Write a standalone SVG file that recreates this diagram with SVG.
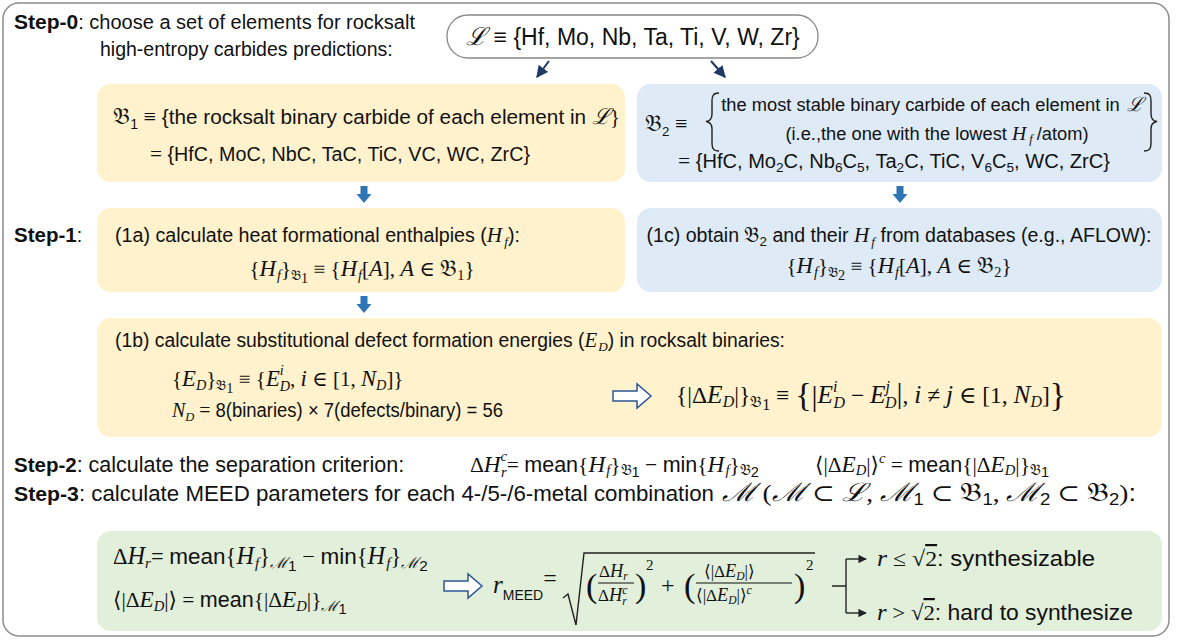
<svg xmlns="http://www.w3.org/2000/svg" width="1178" height="641" viewBox="0 0 1178 641">
<style>
.t{font-family:"Liberation Sans",Arial,sans-serif;font-size:19.5px;fill:#111}
.L{font-size:21.5px}
.b{font-weight:bold;font-size:20.5px}
.m{font-family:"Liberation Serif","DejaVu Serif",serif;font-style:italic;font-size:1.08em}
.u{font-family:"Liberation Serif","DejaVu Serif",serif;font-style:normal}
.fr{font-family:"DejaVu Serif","DejaVu Sans",serif;font-style:normal;font-size:1.1em}
.s{font-size:0.68em}
.yel{fill:#FFF2CC}
.blu{fill:#DEEBF7}
.grn{fill:#E2EFDA}
.ba{fill:#2E75B6}
.ho{fill:#fff;stroke:#2F5597;stroke-width:1.5}
.cn{fill:none;stroke:#1F3864;stroke-width:2}
.br{fill:none;stroke:#222;stroke-width:1.4}
</style>
<defs>
<marker id="ah" viewBox="0 0 10 10" refX="9" refY="5" markerWidth="6" markerHeight="6" orient="auto"><path d="M0,0 L10,5 L0,10 z" fill="#1F3864"/></marker>
<marker id="ak" viewBox="0 0 10 10" refX="9" refY="5" markerWidth="6" markerHeight="6" orient="auto"><path d="M0,0 L10,5 L0,10 z" fill="#222"/></marker>
<path id="blk" d="M-3.5,0 H3.5 V8 H7.5 L0,17 L-7.5,8 H-3.5 Z"/>
<path id="hol" d="M0,-5 H24 V-12 L38,0 L24,12 V5 H0 Z"/>
</defs>
<rect x="3" y="3" width="1166" height="633" rx="16" fill="#fff" stroke="#8c8c8c" stroke-width="1.5"/>

<g id="step0">
<text class="t" x="14" y="29" textLength="401" lengthAdjust="spacingAndGlyphs"><tspan class="b">Step-0</tspan>:  choose a set of elements for rocksalt</text>
<text class="t" x="100" y="56">high-entropy carbides predictions:</text>
</g>
<g id="setL">
<rect x="447" y="15" width="371" height="43" rx="21" fill="#fff" stroke="#888" stroke-width="1.3"/>
<text class="t" x="633" y="45" text-anchor="middle" style="font-size:23px"><tspan class="m">ℒ</tspan> ≡ {Hf, Mo, Nb, Ta, Ti, V, W, Zr}</text>
</g>
<g id="B1">
<rect class="yel" x="97" y="84" width="528" height="98" rx="14"/>
<text class="t" x="113" y="124" style="font-size:20.5px" textLength="507" lengthAdjust="spacingAndGlyphs"><tspan class="fr" style="font-size:23px">𝔅</tspan><tspan dy="5" class="s">1</tspan><tspan dy="-5" class="u" style="font-size:22px"> ≡ </tspan>{the rocksalt binary carbide of each element in <tspan class="m">ℒ</tspan><tspan class="u">}</tspan></text>
<text class="t" x="150" y="161" textLength="380" lengthAdjust="spacingAndGlyphs"><tspan class="u" style="font-size:21px">=</tspan> {HfC, MoC, NbC, TaC, TiC, VC, WC, ZrC}</text>
</g>
<g id="B2">
<rect class="blu" x="637" y="84" width="525" height="98" rx="14"/>
<text class="t" x="645" y="131"><tspan class="fr" style="font-size:23px">𝔅</tspan><tspan dy="5" class="s">2</tspan><tspan dy="-5" class="u" style="font-size:22px"> ≡</tspan></text>
<path class="br" d="M719,93 C713,93 712,96 712,101 L712,114 C712,119 710,121 706,121.5 C710,122 712,124 712,129 L712,143 C712,148 713,151 719,151"/>
<path class="br" d="M1144,93 C1150,93 1151,96 1151,101 L1151,114 C1151,119 1153,121 1157,121.5 C1153,122 1151,124 1151,129 L1151,143 C1151,148 1150,151 1144,151"/>
<text class="t" x="932" y="111" text-anchor="middle" style="font-size:18.3px">the most stable binary carbide of each element in <tspan class="m" dx="2">ℒ</tspan></text>
<text class="t" x="937" y="140" text-anchor="middle" style="font-size:18.3px">(i.e.,the one with the lowest <tspan class="m">H</tspan><tspan class="m s" dx="3" dy="3">f</tspan><tspan dy="-3" dx="4">/atom)</tspan></text>
<text class="t" x="678" y="168" textLength="432" lengthAdjust="spacingAndGlyphs"><tspan class="u" style="font-size:21px">=</tspan> {HfC, Mo<tspan class="s" dy="4">2</tspan><tspan dy="-4">C, Nb</tspan><tspan class="s" dy="4">6</tspan><tspan dy="-4">C</tspan><tspan class="s" dy="4">5</tspan><tspan dy="-4">, Ta</tspan><tspan class="s" dy="4">2</tspan><tspan dy="-4">C, TiC, V</tspan><tspan class="s" dy="4">6</tspan><tspan dy="-4">C</tspan><tspan class="s" dy="4">5</tspan><tspan dy="-4">, WC, ZrC}</tspan></text>
</g>

<g id="step1">
<text class="t" x="14" y="242"><tspan class="b">Step-1</tspan>:</text>
</g>
<g id="n1a">
<rect class="yel" x="97" y="208" width="528" height="84" rx="14"/>
<text class="t" x="115" y="242" textLength="405" lengthAdjust="spacingAndGlyphs">(1a) calculate heat formational enthalpies (<tspan class="m">H</tspan><tspan class="m s" dx="2" dy="4">f</tspan><tspan dy="-4">):</tspan></text>
<text class="t u" x="362" y="276" text-anchor="middle" style="font-size:21px">{<tspan class="m">H</tspan><tspan class="m s" dx="1" dy="4">f</tspan><tspan dy="-4">}</tspan><tspan class="fr s" dy="4">𝔅</tspan><tspan class="s" dy="3">1</tspan><tspan dy="-7"> ≡ {</tspan><tspan class="m">H</tspan><tspan class="m s" dx="1" dy="4">f</tspan><tspan dy="-4">[</tspan><tspan class="m">A</tspan>], <tspan class="m">A</tspan> ∈ <tspan class="fr">𝔅</tspan><tspan class="s" dy="4">1</tspan><tspan dy="-4">}</tspan></text>
</g>
<g id="n1c">
<rect class="blu" x="637" y="208" width="525" height="84" rx="14"/>
<text class="t" x="899" y="242" text-anchor="middle" textLength="505" lengthAdjust="spacingAndGlyphs">(1c) obtain <tspan class="fr">𝔅</tspan><tspan class="s" dy="4">2</tspan><tspan dy="-4"> and their </tspan><tspan class="m">H</tspan><tspan class="m s" dx="2" dy="4">f</tspan><tspan dy="-4"> from databases (e.g., AFLOW):</tspan></text>
<text class="t u" x="899" y="273" text-anchor="middle" style="font-size:21px">{<tspan class="m">H</tspan><tspan class="m s" dx="1" dy="4">f</tspan><tspan dy="-4">}</tspan><tspan class="fr s" dy="4">𝔅</tspan><tspan class="s" dy="3">2</tspan><tspan dy="-7"> ≡ {</tspan><tspan class="m">H</tspan><tspan class="m s" dx="1" dy="4">f</tspan><tspan dy="-4">[</tspan><tspan class="m">A</tspan>], <tspan class="m">A</tspan> ∈ <tspan class="fr">𝔅</tspan><tspan class="s" dy="4">2</tspan><tspan dy="-4">}</tspan></text>
</g>
<g id="n1b">
<rect class="yel" x="97" y="318" width="1065" height="119" rx="14"/>
<text class="t" x="115" y="347" textLength="670" lengthAdjust="spacingAndGlyphs">(1b) calculate substitutional defect formation energies (<tspan class="m">E</tspan><tspan class="m s" dx="1" dy="4">D</tspan><tspan dy="-4">) in rocksalt binaries:</tspan></text>
<text class="t u" x="172" y="386" style="font-size:21px">{<tspan class="m">E</tspan><tspan class="m s" dy="4">D</tspan><tspan dy="-4">}</tspan><tspan class="fr s" dy="4">𝔅</tspan><tspan class="s" dy="3">1</tspan><tspan dy="-7"> ≡ {</tspan><tspan class="m">E</tspan><tspan class="m s" dy="-11">i</tspan><tspan class="m s" dx="-4" dy="16">D</tspan><tspan dy="-5">, </tspan><tspan class="m">i</tspan> ∈ [1, <tspan class="m">N</tspan><tspan class="m s" dy="4">D</tspan><tspan dy="-4">]}</tspan></text>
<text class="t" x="172" y="417" textLength="331" lengthAdjust="spacingAndGlyphs"><tspan class="m" style="font-size:21px">N</tspan><tspan class="m s" dy="4">D</tspan><tspan dy="-4" class="u" style="font-size:21px"> = </tspan>8(binaries) × 7(defects/binary) = 56</text>
<use href="#hol" x="613" y="396" class="ho"/>
<text class="t u" x="676" y="403" style="font-size:23.5px">{|Δ<tspan class="m">E</tspan><tspan class="m s" dy="4">D</tspan><tspan dy="-4">|}</tspan><tspan class="fr s" dy="4">𝔅</tspan><tspan class="s" dy="3">1</tspan><tspan dy="-7"> ≡ </tspan><tspan style="font-size:34px" dy="3">{</tspan><tspan style="font-size:30px">|</tspan><tspan dy="-3" class="m">E</tspan><tspan class="m s" dy="-11">i</tspan><tspan class="m s" dx="-4" dy="16">D</tspan><tspan dy="-5"> − </tspan><tspan class="m">E</tspan><tspan class="m s" dy="-11">j</tspan><tspan class="m s" dx="-5" dy="16">D</tspan><tspan dy="-5" style="font-size:30px">|</tspan><tspan>, </tspan><tspan class="m">i</tspan> ≠ <tspan class="m">j</tspan> ∈ [1, <tspan class="m">N</tspan><tspan class="m s" dy="4">D</tspan><tspan dy="-4">]</tspan><tspan style="font-size:34px" dy="3">}</tspan></text>
</g>

<g id="step2">
<text class="t L" x="14" y="472"><tspan class="b">Step-2</tspan>: calculate the separation criterion:</text>
<text class="t L" x="470" y="472"><tspan class="u">Δ</tspan><tspan class="m">H</tspan><tspan class="m s" dy="-11">c</tspan><tspan class="m s" dx="-6" dy="16">r</tspan><tspan dy="-5" class="u">= </tspan>mean<tspan class="u">{</tspan><tspan class="m">H</tspan><tspan class="m s" dx="1" dy="3">f</tspan><tspan dy="-3" class="u">}</tspan><tspan class="fr s" dy="3">𝔅</tspan><tspan class="s" dy="2">1</tspan><tspan dy="-5" class="u"> − </tspan>min<tspan class="u">{</tspan><tspan class="m">H</tspan><tspan class="m s" dx="1" dy="3">f</tspan><tspan dy="-3" class="u">}</tspan><tspan class="fr s" dy="3">𝔅</tspan><tspan class="s" dy="2">2</tspan></text>
<text class="t L" x="815" y="472"><tspan class="u">⟨|Δ</tspan><tspan class="m">E</tspan><tspan class="m s" dy="3">D</tspan><tspan dy="-3" class="u">|⟩</tspan><tspan class="m s" dy="-9">c</tspan><tspan dy="9" class="u"> = </tspan>mean<tspan class="u">{|Δ</tspan><tspan class="m">E</tspan><tspan class="m s" dy="3">D</tspan><tspan dy="-3" class="u">|}</tspan><tspan class="fr s" dy="3">𝔅</tspan><tspan class="s" dy="2">1</tspan></text>
</g>
<g id="step3">
<text class="t L" x="14" y="501" textLength="700" lengthAdjust="spacingAndGlyphs"><tspan class="b">Step-3</tspan>: calculate MEED parameters for each 4-/5-/6-metal combination</text>
<text class="t" x="722" y="501" style="font-size:23.5px" textLength="414" lengthAdjust="spacingAndGlyphs"><tspan class="m">ℳ</tspan><tspan class="u"> (</tspan><tspan class="m">ℳ</tspan><tspan class="u"> ⊂ </tspan><tspan class="m">ℒ</tspan><tspan class="u">, </tspan><tspan class="m">ℳ</tspan><tspan class="s" dy="4">1</tspan><tspan dy="-4" class="u"> ⊂ </tspan><tspan class="fr">𝔅</tspan><tspan class="s" dy="4">1</tspan><tspan dy="-4" class="u">, </tspan><tspan class="m">ℳ</tspan><tspan class="s" dy="4">2</tspan><tspan dy="-4" class="u"> ⊂ </tspan><tspan class="fr">𝔅</tspan><tspan class="s" dy="4">2</tspan><tspan dy="-4" class="u">)</tspan>:</text>
</g>

<g id="meed">
<rect class="grn" x="97" y="531" width="1065" height="100" rx="14"/>
<text class="t" x="113" y="564" style="font-size:22.5px"><tspan class="u">Δ</tspan><tspan class="m">H</tspan><tspan class="m s" dy="4">r</tspan><tspan dy="-4" class="u">= </tspan>mean<tspan class="u">{</tspan><tspan class="m">H</tspan><tspan class="m s" dx="1" dy="4">f</tspan><tspan dy="-4" class="u">}</tspan><tspan class="m s" dy="4">ℳ</tspan><tspan class="s" dy="3">1</tspan><tspan dy="-7" class="u"> − </tspan>min<tspan class="u">{</tspan><tspan class="m">H</tspan><tspan class="m s" dx="1" dy="4">f</tspan><tspan dy="-4" class="u">}</tspan><tspan class="m s" dy="4">ℳ</tspan><tspan class="s" dy="3">2</tspan></text>
<text class="t L" x="113" y="607"><tspan class="u">⟨|Δ</tspan><tspan class="m">E</tspan><tspan class="m s" dy="4">D</tspan><tspan dy="-4" class="u">|⟩ = </tspan>mean<tspan class="u">{|Δ</tspan><tspan class="m">E</tspan><tspan class="m s" dy="4">D</tspan><tspan dy="-4" class="u">|}</tspan><tspan class="m s" dy="4">ℳ</tspan><tspan class="s" dy="3">1</tspan></text>
<use href="#hol" x="444" y="586" class="ho"/>
<text class="t" x="493" y="593"><tspan class="m" style="font-size:25px">r</tspan><tspan style="font-size:14px" dy="7">MEED</tspan><tspan class="u" style="font-size:24px" dy="-14">=</tspan></text>
<path class="br" d="M563,598 L568,594 L576,625 L584,553 H815" stroke-width="1.3"/>
<text class="u" x="586" y="597" style="font-size:34px;fill:#111">(</text>
<text class="t u" x="599" y="577" style="font-size:17px">Δ<tspan class="m">H</tspan><tspan class="m s" dy="3">r</tspan></text>
<line x1="598" y1="583" x2="634" y2="583" stroke="#111" stroke-width="1"/>
<text class="t u" x="598" y="601" style="font-size:17px">Δ<tspan class="m">H</tspan><tspan class="m s" dy="-7">c</tspan><tspan class="m s" dx="-5" dy="11">r</tspan></text>
<text class="u" x="635" y="597" style="font-size:34px;fill:#111">)</text>
<text class="t u" x="646" y="570" style="font-size:15px">2</text>
<text class="t u" x="661" y="593" style="font-size:24px">+</text>
<text class="u" x="684" y="597" style="font-size:34px;fill:#111">(</text>
<text class="t u" x="704" y="577" style="font-size:17px">⟨|Δ<tspan class="m">E</tspan><tspan class="m s" dy="3">D</tspan><tspan dy="-3">|⟩</tspan></text>
<line x1="696" y1="583" x2="792" y2="583" stroke="#111" stroke-width="1"/>
<text class="t u" x="696" y="601" style="font-size:17px">⟨|Δ<tspan class="m">E</tspan><tspan class="m s" dy="3">D</tspan><tspan dy="-3">|⟩</tspan><tspan class="m s" dy="-7">c</tspan></text>
<text class="u" x="794" y="597" style="font-size:34px;fill:#111">)</text>
<text class="t u" x="806" y="570" style="font-size:15px">2</text>
</g>
<g id="outcomes">
<text class="t" x="877" y="566" style="font-size:22px" textLength="218" lengthAdjust="spacingAndGlyphs"><tspan class="m">r</tspan><tspan class="u"> ≤ √</tspan><tspan class="u" text-decoration="overline">2</tspan>: synthesizable</text>
<text class="t" x="877" y="620" style="font-size:22px" textLength="256" lengthAdjust="spacingAndGlyphs"><tspan class="m">r</tspan><tspan class="u"> &gt; √</tspan><tspan class="u" text-decoration="overline">2</tspan>: hard to synthesize</text>
</g>
<g id="connectors">
<line class="cn" x1="549" y1="61" x2="537" y2="77" marker-end="url(#ah)"/>
<line class="cn" x1="711" y1="61" x2="725" y2="77" marker-end="url(#ah)"/>
<use href="#blk" x="364" y="186" class="ba"/>
<use href="#blk" x="900" y="186" class="ba"/>
<use href="#blk" x="364" y="296" class="ba"/>
<path class="br" d="M832,586 H846 M846,559 V613"/>
<line class="br" x1="846" y1="559" x2="866" y2="559" marker-end="url(#ak)"/>
<line class="br" x1="846" y1="613" x2="866" y2="613" marker-end="url(#ak)"/>
</g>
</svg>
